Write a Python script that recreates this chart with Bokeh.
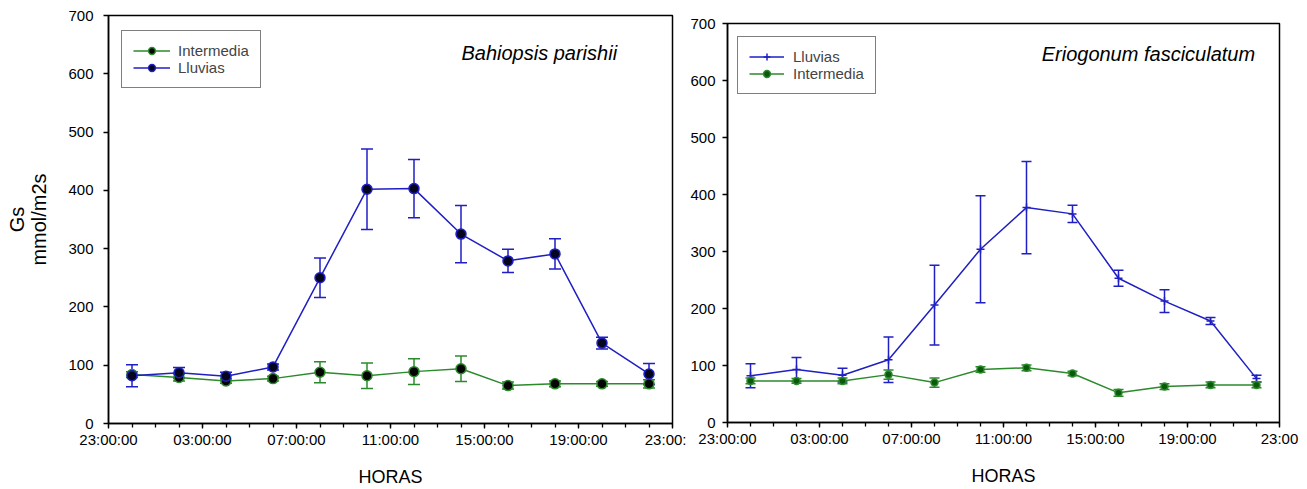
from bokeh.plotting import figure
from bokeh.models import (ColumnDataSource, Range1d, FixedTicker, Whisker, TeeHead,
                          Legend, LegendItem, Label)
from bokeh.layouts import row
from bokeh.embed import file_html
from bokeh.resources import INLINE

# ---------------- data ----------------
times = ["00:00", "02:00", "04:00", "06:00", "08:00", "10:00",
         "12:00", "14:00", "16:00", "18:00", "20:00", "22:00"]
left_tick_labels = ["23:00:00", "03:00:00", "07:00:00", "11:00:00", "15:00:00", "19:00:00", "23:00:"]
right_tick_labels = ["23:00:00", "03:00:00", "07:00:00", "11:00:00", "15:00:00", "19:00:00", "23:00"]
y_ticks = [0, 100, 200, 300, 400, 500, 600, 700]

# Bahiopsis parishii
bp_lluvias = [82, 87, 81, 97, 250, 402, 403, 325, 279, 291, 138, 85]
bp_lluvias_err = [19, 9, 7, 5, 34, 69, 50, 49, 20, 26, 10, 18]
bp_inter = [84, 79, 73, 77, 88, 82, 89, 94, 65, 68, 68, 68]
bp_inter_err = [5, 6, 4, 4, 18, 22, 22, 22, 6, 5, 4, 7]

# Eriogonum fasciculatum
ef_lluvias = [82, 93, 83, 110, 206, 304, 377, 366, 253, 213, 178, 77]
ef_lluvias_err = [21, 21, 12, 40, 70, 94, 81, 15, 14, 20, 6, 6]
ef_inter = [73, 73, 73, 84, 70, 93, 96, 86, 52, 63, 66, 66]
ef_inter_err = [5, 4, 5, 8, 8, 5, 5, 4, 6, 5, 5, 5]

BLUE = "#1f1fc4"
GREEN = "#2b8a2b"
FONT = "Liberation Sans"

# hours elapsed since 23:00 (start of axis)
hours = [(int(t[:2]) - 23) % 24 for t in times]


def make_fig(width, height, bl, br, bt, bb, tick_labels, ylabel, ystandoff):
    p = figure(width=width, height=height, output_backend="svg", toolbar_location=None,
               title=None,
               x_range=Range1d(0, 24), y_range=Range1d(0, 700),
               min_border_left=bl, min_border_right=br, min_border_top=bt, min_border_bottom=bb)
    p.frame_align = False
    p.xgrid.visible = False
    p.ygrid.visible = False
    p.outline_line_color = "black"
    p.outline_line_width = 1.5
    p.background_fill_color = "white"
    p.border_fill_color = "white"

    majors = list(range(0, 25, 4))
    p.xaxis.ticker = FixedTicker(ticks=majors, minor_ticks=list(range(0, 25)))
    p.xaxis.major_label_overrides = {m: lab for m, lab in zip(majors, tick_labels)}
    p.yaxis.ticker = FixedTicker(ticks=y_ticks)

    for ax in (p.xaxis[0], p.yaxis[0]):
        ax.axis_line_width = 1.5
        ax.axis_line_color = "black"
        ax.major_tick_in = 0
        ax.major_tick_out = 5
        ax.minor_tick_in = 0
        ax.minor_tick_out = 4
        ax.major_tick_line_width = 1.3
        ax.minor_tick_line_width = 1.3
        ax.major_label_text_font = FONT
        ax.major_label_text_font_size = "15px"
        ax.major_label_text_color = "black"
        ax.axis_label_text_font = FONT
        ax.axis_label_text_font_style = "normal"
        ax.axis_label_text_color = "black"
    p.yaxis.minor_tick_line_color = None
    p.yaxis.major_label_standoff = ystandoff
    p.xaxis.major_label_standoff = 2
    p.xaxis.axis_label = "HORAS"
    p.xaxis.axis_label_text_font_size = "18px"
    p.xaxis.axis_label_standoff = 16
    if ylabel:
        p.yaxis.axis_label = ylabel
        p.yaxis.axis_label_text_font_size = "20px"
        p.yaxis.axis_label_text_line_height = 1.0
        p.yaxis.axis_label_standoff = 15
    return p


def add_series(p, vals, errs, color, marker, msize, fill, cap):
    src = ColumnDataSource(dict(x=hours, y=vals,
                                upper=[v + e for v, e in zip(vals, errs)],
                                lower=[v - e for v, e in zip(vals, errs)]))
    w = Whisker(source=src, base="x", upper="upper", lower="lower",
                line_color=color, line_width=1.5,
                upper_head=TeeHead(size=cap, line_color=color, line_width=1.5),
                lower_head=TeeHead(size=cap, line_color=color, line_width=1.5))
    p.add_layout(w)
    lr = p.line("x", "y", source=src, line_color=color, line_width=1.5)
    sr = p.scatter("x", "y", source=src, marker=marker, size=msize,
                   fill_color=fill, line_color=color, line_width=1.5)
    return [lr, sr]


# ---------------- left panel ----------------
p1 = make_fig(686, 489, 108, 14, 15, 66, left_tick_labels, "Gs\nmmol/m2s", 10)
r_int = add_series(p1, bp_inter, bp_inter_err, GREEN, "circle", 10, "#050505", 12)
r_llu = add_series(p1, bp_lluvias, bp_lluvias_err, BLUE, "circle", 10, "#05051e", 12)
leg1 = Legend(items=[LegendItem(label="Intermedia", renderers=r_int),
                     LegendItem(label="Lluvias", renderers=r_llu)],
              location=(13, 335), padding=11, spacing=0, margin=0,
              glyph_width=37, glyph_height=17, label_height=17, label_standoff=8,
              label_text_font=FONT, label_text_font_size="15px",
              border_line_color="black", border_line_width=1.5,
              background_fill_alpha=1.0)
p1.add_layout(leg1)
p1.add_layout(Label(x=18.33, y=636, text="Bahiopsis parishii", text_font=FONT,
                    text_font_style="italic", text_font_size="20px",
                    text_align="center", text_baseline="middle", text_color="black"))

# ---------------- right panel ----------------
p2 = make_fig(621, 489, 41, 28, 23, 67, right_tick_labels, None, 7)
r_llu2 = add_series(p2, ef_lluvias, ef_lluvias_err, BLUE, "cross", 8, BLUE, 10)
r_int2 = add_series(p2, ef_inter, ef_inter_err, GREEN, "circle", 7, "#0b5a0b", 10)
leg2 = Legend(items=[LegendItem(label="Lluvias", renderers=r_llu2),
                     LegendItem(label="Intermedia", renderers=r_int2)],
              location=(10, 328), padding=11, spacing=0, margin=0,
              glyph_width=35, glyph_height=17, label_height=17, label_standoff=9,
              label_text_font=FONT, label_text_font_size="15px",
              border_line_color="black", border_line_width=1.5,
              background_fill_alpha=1.0)
p2.add_layout(leg2)
p2.add_layout(Label(x=18.3, y=647, text="Eriogonum fasciculatum", text_font=FONT,
                    text_font_style="italic", text_font_size="20px",
                    text_align="center", text_baseline="middle", text_color="black"))

layout = row(p1, p2)
open("out.html", "w").write(file_html(layout, INLINE))
